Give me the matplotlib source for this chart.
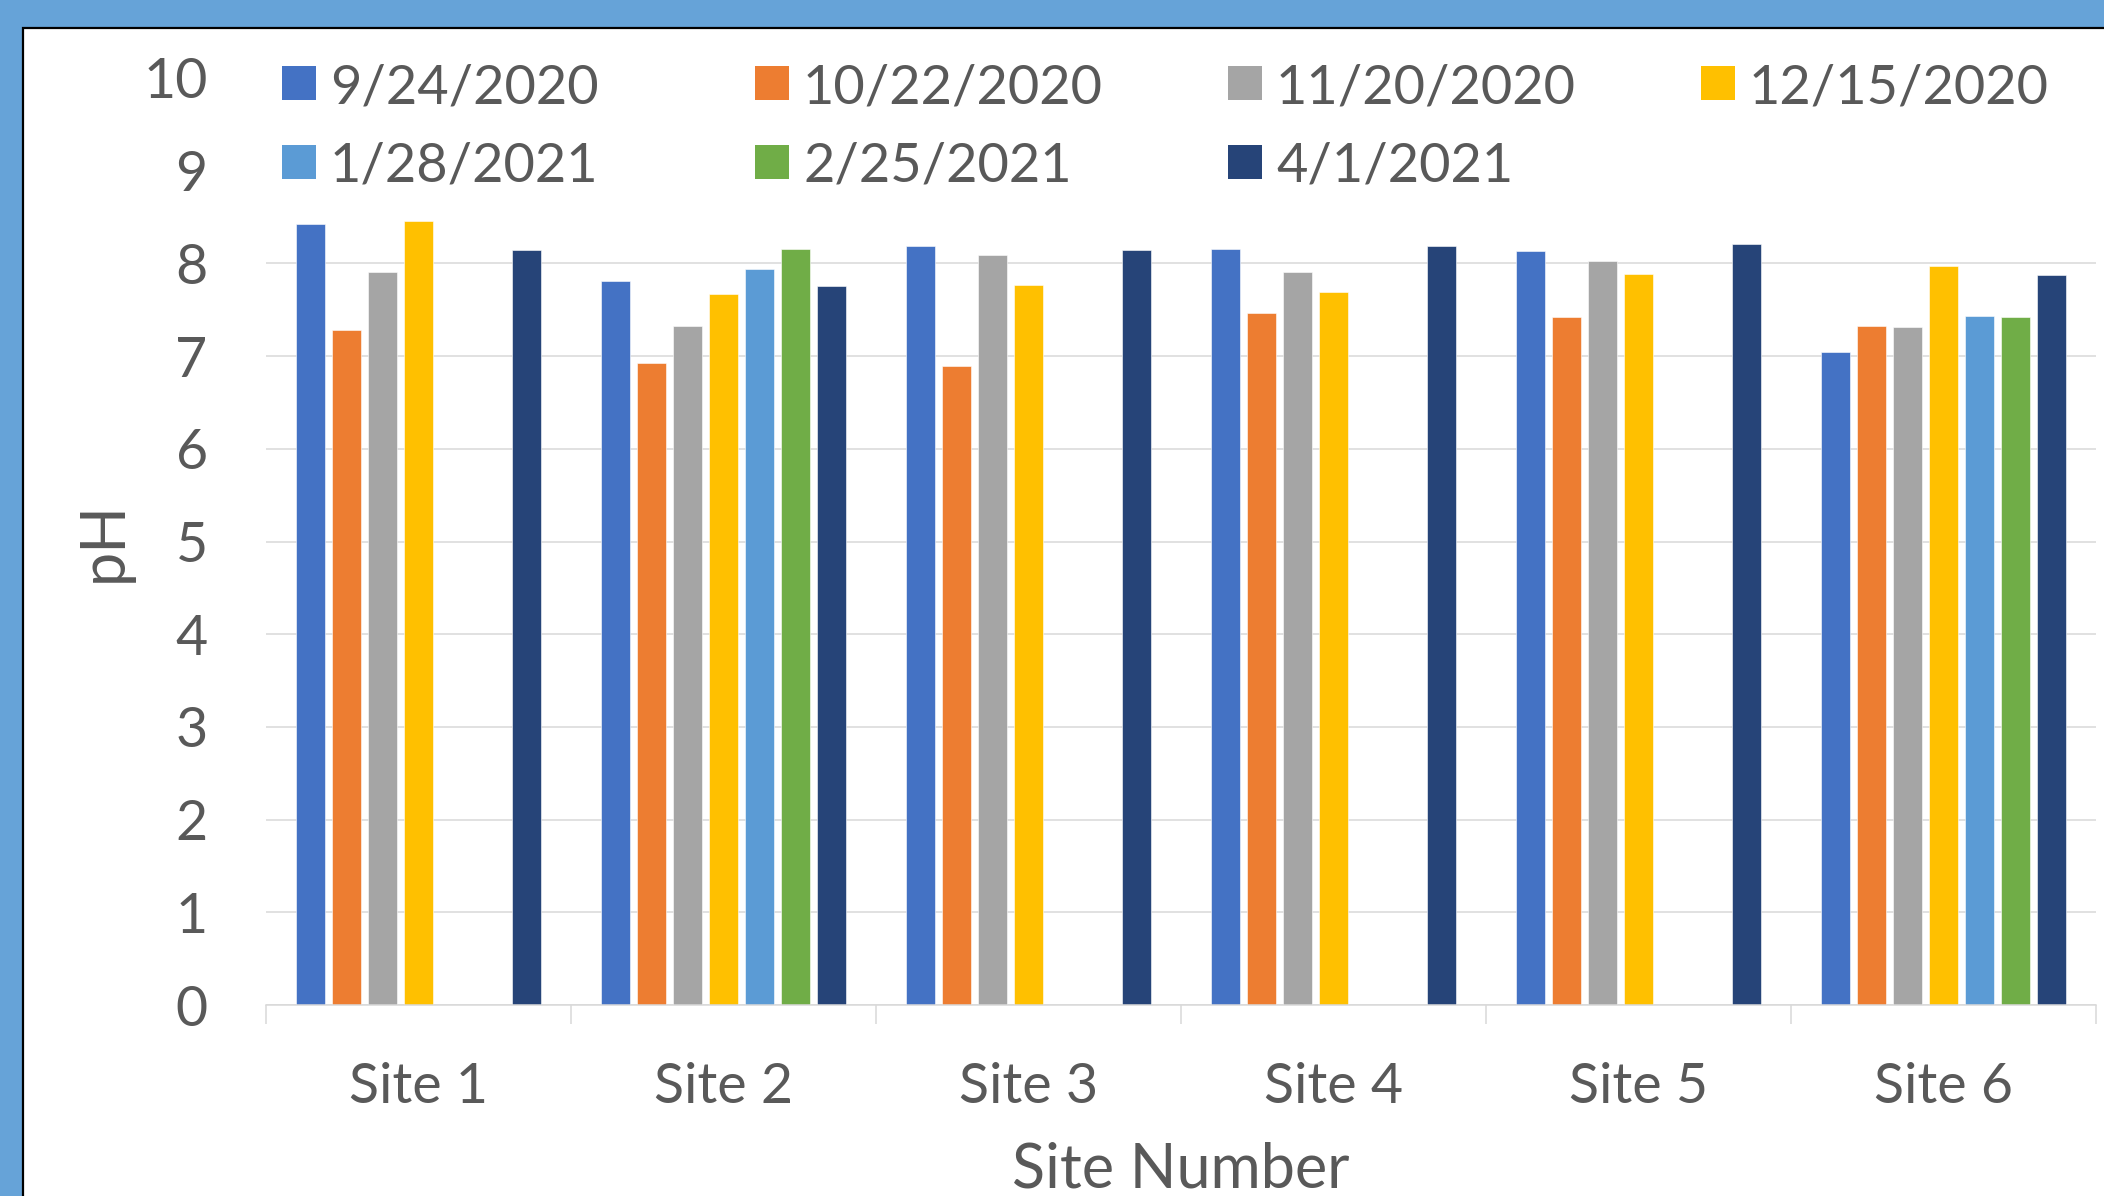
import numpy as np
import matplotlib
matplotlib.use("Agg")
import matplotlib.pyplot as plt
from matplotlib.patches import Rectangle

# --------------------------------------------------
# DATA
# --------------------------------------------------

sites = ["Site 1", "Site 2", "Site 3", "Site 4", "Site 5", "Site 6"]
dates = ["9/24/2020", "10/22/2020", "11/20/2020", "12/15/2020",
         "1/28/2021", "2/25/2021", "4/1/2021"]

nan = np.nan
ph_0924 = [8.43, 7.81, 8.19, 8.16, 8.13, 7.04]
ph_1022 = [7.28, 6.93, 6.89, 7.46, 7.42, 7.32]
ph_1120 = [7.91, 7.32, 8.09, 7.91, 8.03, 7.31]
ph_1215 = [8.46, 7.67, 7.77, 7.69, 7.89, 7.97]
ph_0128 = [nan, 7.94, nan, nan, nan, 7.43]
ph_0225 = [nan, 8.15, nan, nan, nan, 7.42]
ph_0401 = [8.14, 7.76, 8.14, 8.19, 8.21, 7.87]

series = [ph_0924, ph_1022, ph_1120, ph_1215, ph_0128, ph_0225, ph_0401]
colors = ["#4472C4", "#ED7D31", "#A5A5A5", "#FFC000",
          "#5B9BD5", "#70AD47", "#264478"]

# --------------------------------------------------
# FIGURE
# --------------------------------------------------

W, H = 2104, 1196
plt.rcParams["font.family"] = ["Lato", "DejaVu Sans"]
txt = "#595959"
grid_c = "#D9D9D9"

fig = plt.figure(figsize=(W / 100, H / 100), dpi=100)
fig.patch.set_facecolor("#66A3D8")

# white chart area with thin dark edge (only left/top edges visible)
fig.patches.append(Rectangle((23 / W, -0.1), 1.2, 1.1 - 28 / H,
                             transform=fig.transFigure, facecolor="white",
                             edgecolor="black", linewidth=1.6, zorder=-5))

ax = fig.add_axes([266 / W, 191 / H, 1830 / W, 927 / H])
ax.set_facecolor("none")

slot = 0.118
bar_w = 0.093
x = np.arange(len(sites))

for i in range(len(series)):
    vals = np.array(series[i], dtype=float)
    ok = np.isfinite(vals)
    ax.bar(x[ok] + (i - 3) * slot, vals[ok], width=bar_w, color=colors[i],
           edgecolor="white", linewidth=0.4, zorder=2)

ax.set_xlim(-0.5, 5.5)
ax.set_ylim(0, 10)
ax.set_yticks(range(0, 11))
ax.yaxis.grid(True, color=grid_c, linewidth=1.1, zorder=0)
ax.set_axisbelow(True)

for s in ["left", "right", "top"]:
    ax.spines[s].set_visible(False)
ax.spines["bottom"].set_color(grid_c)
ax.spines["bottom"].set_linewidth(1.1)

ax.set_xticks(x)
ax.set_xticklabels(sites)
ax.set_xticks(np.arange(-0.5, 6.0, 1.0), minor=True)
ax.tick_params(axis="x", which="major", length=0, pad=41,
               labelsize=40, labelcolor=txt)
ax.tick_params(axis="x", which="minor", length=14, width=1.1,
               color=grid_c, direction="out")
ax.tick_params(axis="y", length=0, pad=42, labelsize=40, labelcolor=txt)

ax.set_xlabel("Site Number", fontsize=44, color=txt)
ax.xaxis.set_label_coords(0.5, -0.147)
ax.set_ylabel("pH", fontsize=44, color=txt)
ax.yaxis.set_label_coords(-0.073, 0.5)

# legend area covers the top gridlines
ax.add_patch(Rectangle((0, 0.87), 1.0, 0.14, transform=ax.transAxes,
                       facecolor="white", edgecolor="none", zorder=3,
                       clip_on=False))

# legend, 4 equal columns
col_x = [282, 755, 1228, 1701]
row_y = [83, 162]
for i in range(len(dates)):
    mx = col_x[i % 4]
    my = row_y[i // 4]
    fig.patches.append(Rectangle((mx / W, 1 - (my + 17) / H), 34 / W, 34 / H,
                                 transform=fig.transFigure,
                                 facecolor=colors[i], edgecolor="none",
                                 zorder=5))
    fig.text((mx + 48) / W, 1 - my / H, dates[i], fontsize=39, color=txt,
             ha="left", va="center_baseline", zorder=6)

fig.savefig("out.png", dpi=100, facecolor=fig.get_facecolor())
